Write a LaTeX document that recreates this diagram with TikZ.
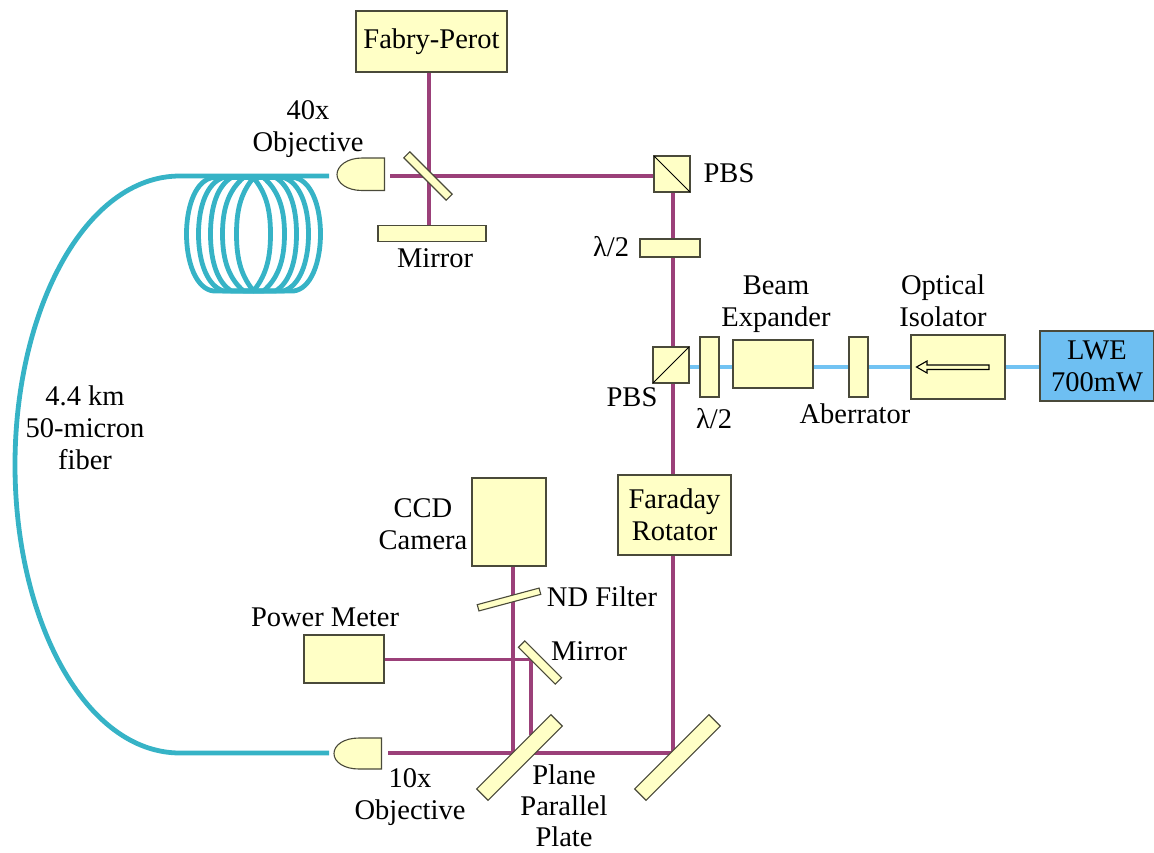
\documentclass[tikz,border=0pt]{standalone}
\usepackage{fontspec}
\setmainfont{Liberation Serif}
\usetikzlibrary{backgrounds}
\definecolor{beamc}{HTML}{9B4079}
\definecolor{bluec}{HTML}{72C3F3}
\definecolor{fiberc}{HTML}{36B3C6}
\definecolor{yell}{HTML}{FFFFC6}
\definecolor{lwec}{HTML}{6EBFF2}
\definecolor{edgec}{HTML}{4A4A3A}
\tikzset{
  comp/.style={draw=edgec,line width=1.1pt,fill=yell,inner sep=0pt,outer sep=0pt,align=center,minimum width=#1},
  comp/.default=10pt,
  lab/.style={inner sep=0pt,align=center,font=\fontsize{28.5}{32}\selectfont,text=black},
  beam/.style={draw=beamc,line width=3.8pt},
  bluebeam/.style={draw=bluec,line width=4.5pt},
  fiber/.style={draw=fiberc,line width=4.8pt,line cap=round,line join=round},
}
\begin{document}
\begin{tikzpicture}[x=1pt,y=-1pt]
\useasboundingbox (0,0) rectangle (1154,852);
\newcommand{\boxnode}[6]{\node[comp,font=\fontsize{28.5}{32}\selectfont,minimum width=#4pt,minimum height=#5pt] (#1) at (#2,#3) {#6};}
\boxnode{fp}{431.5}{41.5}{151}{61}{Fabry-Perot}
\boxnode{mirrorA}{432}{233.5}{108}{16}{}
\boxnode{pbsA}{672}{174}{36}{36}{}
\boxnode{waveA}{670}{248}{60}{18}{}
\boxnode{pbsB}{671}{365}{36}{36}{}
\boxnode{waveB}{709.5}{367}{19}{60}{}
\boxnode{expander}{773}{364}{80}{48}{}
\boxnode{aberr}{858.5}{367}{19}{60}{}
\boxnode{isolator}{958}{367}{94}{64}{}
\node[comp,fill=lwec,font=\fontsize{28.5}{32}\selectfont,minimum width=114pt,minimum height=70pt] (lwe) at (1097,366) {LWE\\700mW};
\boxnode{faraday}{674.5}{515}{113}{80}{Faraday\\Rotator}
\boxnode{ccd}{509}{522}{74}{88}{}
\boxnode{power}{344}{659}{80}{48}{}
\node[comp,minimum width=64pt,minimum height=6.5pt,rotate=15] (nd) at (509,599.5) {};
\node[comp,minimum width=60pt,minimum height=8.5pt,rotate=-45] (bs) at (428,176) {};
\node[comp,minimum width=52pt,minimum height=9pt,rotate=-45] (mirrorB) at (540,662.5) {};
\node[comp,minimum width=105pt,minimum height=16pt,rotate=45] (plate) at (519.5,757.5) {};
\node[comp,minimum width=105pt,minimum height=16pt,rotate=45] (turn) at (677.5,757.5) {};
% objectives
\draw[draw=edgec,line width=1.1pt,fill=yell] (384.5,158) -- (362,158) .. controls (347,158) and (337,166) .. (337,174.5) .. controls (337,183) and (347,190.5) .. (362,190.5) -- (384.5,190.5) -- cycle;
\draw[draw=edgec,line width=1.1pt,fill=yell] (381.5,738) -- (359,738) .. controls (344,738) and (334,745) .. (334,753.5) .. controls (334,762) and (344,769) .. (359,769) -- (381.5,769) -- cycle;
% coordinates for free ends
\coordinate (topIn) at (390,176);
\coordinate (botIn) at (388,753);
\coordinate (topFib) at (329,176);
\coordinate (botFib) at (329,753);
\coordinate (pbsIn) at (654,176);
\coordinate (fpo) at (429,72);
\coordinate (mao) at (429,226);
\coordinate (pa) at (673,192);
\coordinate (pb) at (673,347);
\coordinate (pc) at (673,383);
\coordinate (fa) at (673,475);
\coordinate (fb) at (673,555);
\coordinate (tc) at (673,753);
\coordinate (ccdo) at (513,566);
\coordinate (pc1) at (513,753);
\coordinate (pwo) at (384,659.5);
\coordinate (mb) at (531,659.5);
\coordinate (mc) at (531,735);
\coordinate (blueA) at (689,367);
\coordinate (blueB) at (1040,367);
\begin{scope}[on background layer]
\draw[beam] (topIn) -- (pbsIn);
\draw[beam] (fpo) -- (mao);
\draw[beam] (pa) -- (pb);
\draw[beam] (pc) -- (fa);
\draw[beam] (fb) -- (tc);
\draw[beam] (botIn) -- (tc);
\draw[beam] (ccdo) -- (pc1);
\draw[beam] (pwo) -- (mb) -- (mc);
\draw[bluebeam] (blueA) -- (blueB);
\draw[fiber,line cap=butt] (topFib) -- (180,176) .. controls (85,176) and (15,310) .. (15,465) .. controls (15,620) and (85,753) .. (180,753) -- (botFib);
\foreach \w/\t/\d in {67/40/2,55/30/5,43/22/8,31/10/12,17/0/14}{
  \pgfmathsetmacro{\cx}{\t+0.65*(\w-\t)}
  \draw[fiber] (253.5-\t,177.5) .. controls (253.5-\cx,177.5+\d) and (253.5-\w,206) .. (253.5-\w,234)
     .. controls (253.5-\w,262) and (253.5-\cx,291-\d) .. (253.5-\t,291)
     -- (253.5+\t,291)
     .. controls (253.5+\cx,291-\d) and (253.5+\w,262) .. (253.5+\w,234)
     .. controls (253.5+\w,206) and (253.5+\cx,177.5+\d) .. (253.5+\t,177.5) -- cycle;
}
\end{scope}
\draw[draw=black,line width=1pt] (pbsA.north west) -- (pbsA.south east);
\draw[draw=black,line width=1pt] (pbsB.south west) -- (pbsB.north east);
% isolator arrow
\draw[draw=black,line width=1.1pt,fill=yell] (916.5,367) -- (927,361) -- (927,365) -- (989,365) -- (989,369.5) -- (927,369.5) -- (927,373) -- cycle;
% labels
\node[lab] (l40) at (308,129) {40x\\Objective};
\node[lab] (lpa) at (729,173) {PBS};
\node[lab] (lma) at (435,258) {Mirror};
\node[lab] (lwa) at (611,247) {λ/2};
\node[lab] (lbe) at (776,304) {Beam\\Expander};
\node[lab] (lis) at (943,301) {Optical\\Isolator};
\node[lab] (lpb) at (632,397) {PBS};
\node[lab] (lwb) at (714,419) {λ/2};
\node[lab] (lab) at (855,414) {Aberrator};
\node[lab] (lfi) at (85,428) {4.4 km\\50-micron\\fiber};
\node[lab] (lcc) at (423,524) {CCD\\Camera};
\node[lab] (lnd) at (602,597) {ND Filter};
\node[lab] (lpm) at (325,617) {Power Meter};
\node[lab] (lmb) at (589,651) {Mirror};
\node[lab] (l10) at (410,797) {10x\\Objective};
\node[lab,font=\fontsize{28.5}{31}\selectfont] (lpl) at (564,806) {Plane\\Parallel\\Plate};
\end{tikzpicture}
\end{document}
